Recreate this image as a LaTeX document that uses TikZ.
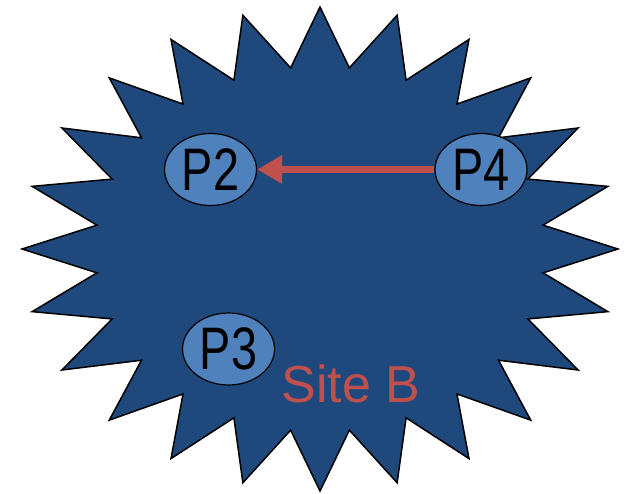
\documentclass[tikz,border=0pt]{standalone}
\usepackage{fontspec}
\setmainfont{Liberation Sans}
\usetikzlibrary{arrows.meta,shapes.geometric}
\definecolor{stardark}{HTML}{1F497D}
\definecolor{procblue}{HTML}{4F81BD}
\definecolor{sitered}{HTML}{C0504D}
\tikzset{
  proc/.style={ellipse, draw=black, line width=1.2pt, fill=procblue,
    minimum width=92pt, minimum height=72pt, inner sep=0pt,
    font=\fontsize{60}{60}\selectfont, text=black},
  msg/.style={draw=sitered, line width=7.5pt,
    -{Triangle[length=25pt,width=27pt]}},
  sitelabel/.style={text=sitered, font=\fontsize{52}{52}\selectfont, inner sep=0pt}
}
\begin{document}
\begin{tikzpicture}[x=1pt,y=-1pt]
\useasboundingbox (0,0) rectangle (626,493);
\filldraw[fill=stardark, draw=black, line width=1.5pt, line join=miter]
  plot[samples at={0,...,47}, variable=\k]
  ({320+298*(1-0.245*mod(\k,2))*cos(90+7.5*\k)},
   {249-242*(1-0.245*mod(\k,2))*sin(90+7.5*\k)}) -- cycle;
\node[proc] (P2) at (210.5,169.5) {\scalebox{0.78}[1]{P2}};
\node[proc] (P4) at (481,169.5) {\scalebox{0.78}[1]{P4}};
\node[proc] (P3) at (228.5,349) {\scalebox{0.78}[1]{P3}};
\draw[msg] (P4) -- (P2);
\node[sitelabel, anchor=base] (site) at (351,402) {Site B};
\end{tikzpicture}
\end{document}
